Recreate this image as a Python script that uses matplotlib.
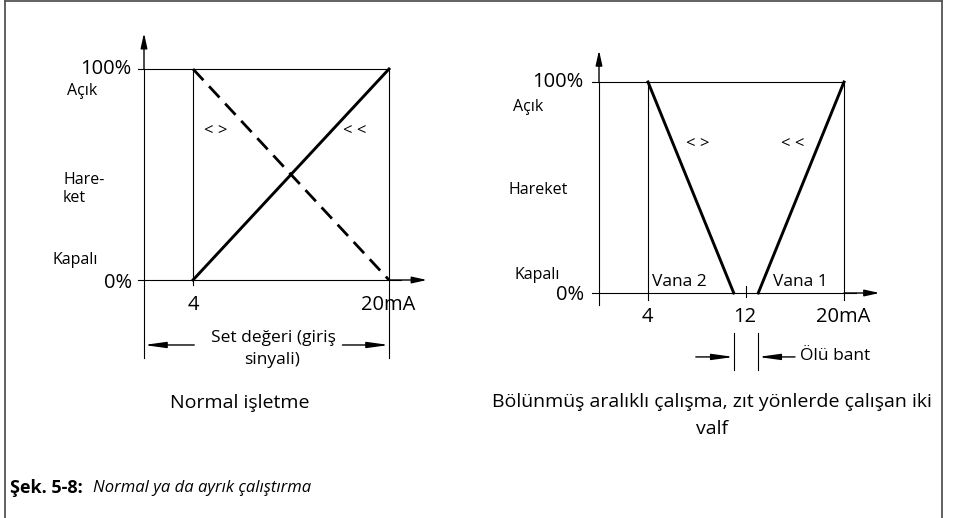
import matplotlib
matplotlib.use("Agg")
from matplotlib import pyplot as plt
from matplotlib.lines import Line2D

plt.rcParams['font.family'] = ['Open Sans', 'DejaVu Sans']
plt.rcParams['lines.scale_dashes'] = False

# data (mA vs % travel)
signal_range = [4, 20]
travel_direct = [0, 100]       # >> direct action
travel_reverse = [100, 0]      # <> reverse action
valve2_x = [4, 11]
valve2_y = [100, 0]
valve1_x = [13, 20]
valve1_y = [0, 100]
split_tick = 12

W, H = 954, 518
PX_MA = 12.25   # pixels per mA
PX_PCT = 2.11   # pixels per %

fig = plt.figure(figsize=(W / 100, H / 100), dpi=100)
fig.patch.set_facecolor('white')


def make_panel(left_px, right_px, axis_px, zero_py):
    ax = fig.add_axes([left_px / W, 0, (right_px - left_px) / W, 1])
    ax.set_xlim((left_px - axis_px) / PX_MA, (right_px - axis_px) / PX_MA)
    ax.set_ylim((zero_py - H) / PX_PCT, zero_py / PX_PCT)
    ax.axis('off')
    return ax


def px(ax_info, x, y):
    # convert a pixel position (for texts) to data coords of a panel
    axis_px, zero_py = ax_info
    return (x - axis_px) / PX_MA, (zero_py - y) / PX_PCT


def arrow(ax, start, end, hl=0.9, hw=0.2):
    ax.annotate('', xy=end, xytext=start,
                arrowprops=dict(arrowstyle='-|>,head_length=%s,head_width=%s' % (hl, hw),
                                lw=1.0, color='black', shrinkA=0, shrinkB=0))


thin = dict(color='black', lw=0.8)
thick = dict(color='black', lw=2.1)

fs_big = 14.5
fs_lab = 11.5
fs_mid = 12.5
fs_cap = 14
fs_ch = 12

# ---------- left panel: normal operation ----------
L = (144, 280)
axl = make_panel(0, 477, *L)
lo, hi = signal_range
axl.plot([-0.5, hi], [100, 100], **thin)
axl.plot([-0.5, hi + 1], [0, 0], **thin)
arrow(axl, (hi, 0), (23.1, 0))
axl.plot([0, 0], [-37, 100], **thin)
arrow(axl, (0, 100), (0, 117))
axl.plot([lo, lo], [-2.5, 100], **thin)
axl.plot([hi, hi], [-37, 100], **thin)
axl.plot(signal_range, travel_direct, **thick)
axl.plot(signal_range, travel_reverse, color='black', lw=2.0, dashes=(11, 6))

# dimension line "Set değeri"
arrow(axl, (lo + 0.1, -30.8), (0, -30.8), hl=1.3, hw=0.18)
arrow(axl, (16.2, -30.8), (hi, -30.8), hl=1.3, hw=0.18)

axl.text(*px(L, 131, 69), '100%', ha='right', va='center', fontsize=fs_big)
axl.text(*px(L, 67, 91), 'Açık', ha='left', va='center', fontsize=fs_lab)
axl.text(*px(L, 63, 189), 'Hare-\nket', ha='left', va='center', fontsize=fs_lab, linespacing=1.15)
axl.text(*px(L, 52, 260), 'Kapalı', ha='left', va='center', fontsize=fs_lab)
axl.text(*px(L, 132, 283), '0%', ha='right', va='center', fontsize=fs_big)
axl.text(*px(L, 193, 305), '4', ha='center', va='center', fontsize=fs_big)
axl.text(*px(L, 388, 305), '20mA', ha='center', va='center', fontsize=fs_big)
axl.text(*px(L, 216, 131), '< >', ha='center', va='center', fontsize=fs_ch)
axl.text(*px(L, 355, 131), '< <', ha='center', va='center', fontsize=fs_ch)
axl.text(*px(L, 273, 338), 'Set değeri (giriş', ha='center', va='center', fontsize=fs_mid)
axl.text(*px(L, 272, 360), 'sinyali)', ha='center', va='center', fontsize=fs_mid)
axl.text(*px(L, 240, 403), 'Normal işletme', ha='center', va='center', fontsize=fs_cap)

# ---------- right panel: split range ----------
R = (599, 293)
axr = make_panel(477, 954, *R)
axr.plot([-0.6, hi], [100, 100], **thin)
axr.plot([-0.6, hi + 1], [0, 0], **thin)
arrow(axr, (hi, 0), (22.9, 0))
axr.plot([0, 0], [-5.5, 100], **thin)
arrow(axr, (0, 100), (0, 115))
axr.plot([lo, lo], [-3.5, 100], **thin)
axr.plot([hi, hi], [-3.5, 100], **thin)
axr.plot([split_tick, split_tick], [-2.0, 3.3], **thin)
axr.plot(valve2_x, valve2_y, **thick)
axr.plot(valve1_x, valve1_y, **thick)

# dead band markers
db_lo, db_hi = valve2_x[-1], valve1_x[0]
for xv in (db_lo, db_hi):
    axr.plot([xv, xv], [-19, -36.5], **thin)
arrow(axr, (7.9, -30.3), (db_lo, -30.3), hl=1.3, hw=0.18)
arrow(axr, (16.0, -30.3), (db_hi, -30.3), hl=1.3, hw=0.18)

axr.text(*px(R, 583, 82), '100%', ha='right', va='center', fontsize=fs_big)
axr.text(*px(R, 513, 107), 'Açık', ha='left', va='center', fontsize=fs_lab)
axr.text(*px(R, 508, 190), 'Hareket', ha='left', va='center', fontsize=fs_lab)
axr.text(*px(R, 515, 275), 'Kapalı', ha='left', va='center', fontsize=fs_lab)
axr.text(*px(R, 584, 295), '0%', ha='right', va='center', fontsize=fs_big)
axr.text(*px(R, 652, 282), 'Vana 2', ha='left', va='center', fontsize=fs_mid)
axr.text(*px(R, 773, 282), 'Vana 1', ha='left', va='center', fontsize=fs_mid)
axr.text(*px(R, 698, 144), '< >', ha='center', va='center', fontsize=fs_ch)
axr.text(*px(R, 793, 144), '< <', ha='center', va='center', fontsize=fs_ch)
axr.text(*px(R, 647, 317), '4', ha='center', va='center', fontsize=fs_big)
axr.text(*px(R, 745, 317), '12', ha='center', va='center', fontsize=fs_big)
axr.text(*px(R, 843, 317), '20mA', ha='center', va='center', fontsize=fs_big)
axr.text(*px(R, 800, 356), 'Ölü bant', ha='left', va='center', fontsize=fs_mid)
axr.text(*px(R, 712, 402), 'Bölünmüş aralıklı çalışma, zıt yönlerde çalışan iki',
         ha='center', va='center', fontsize=fs_cap)
axr.text(*px(R, 712, 429), 'valf', ha='center', va='center', fontsize=fs_cap)

# figure caption
cap_y = 1 - 488 / H
fig.text(10 / W, cap_y, 'Şek. 5-8:', ha='left', va='center', fontsize=13, fontweight='bold')
fig.text(93 / W, cap_y, 'Normal ya da ayrık çalıştırma', ha='left', va='center',
         fontsize=12, style='italic')

# frame
border = dict(color='#555555', lw=1.3, transform=fig.transFigure)
fig.add_artist(Line2D([5 / W, 5 / W], [0, 1 - 1 / H], **border))
fig.add_artist(Line2D([5 / W, 942 / W], [1 - 1 / H, 1 - 1 / H], **border))
fig.add_artist(Line2D([942 / W, 942 / W], [0, 1 - 1 / H], **border))

fig.savefig('out.png', dpi=100)
